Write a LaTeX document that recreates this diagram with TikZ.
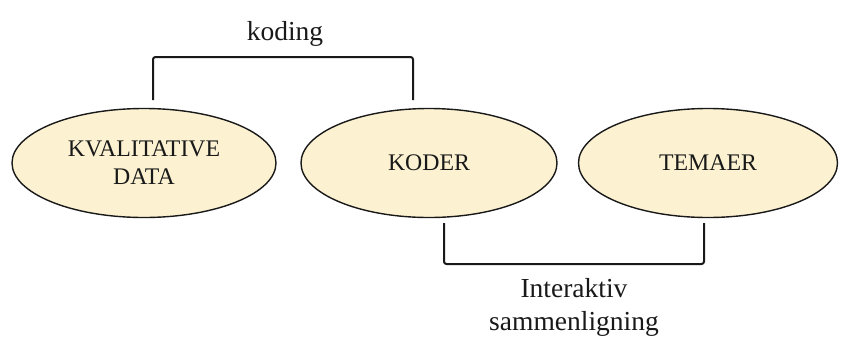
\documentclass[tikz,border=0pt]{standalone}
\usepackage{fontspec}
\setmainfont{Liberation Serif}
\usetikzlibrary{shapes.geometric}
\definecolor{ellfill}{RGB}{252,242,209}
\definecolor{inkc}{RGB}{25,25,25}
\tikzset{
  blob/.style={ellipse, draw=inkc, line width=1.4pt, fill=ellfill, inner sep=0pt,
    minimum width=#1, minimum height=109pt, align=center, text=inkc,
    font=\fontsize{23.8}{28}\selectfont},
  bracket/.style={draw=inkc, line width=2pt, rounded corners=2.5pt},
  lbl/.style={text=inkc, font=\fontsize{27.5}{35}\selectfont, align=center, inner sep=0pt}
}
\begin{document}
\begin{tikzpicture}[x=1pt,y=-1pt]
\useasboundingbox (0,0) rectangle (847,338);
\node[blob=264pt] (kv) at (144,163) {KVALITATIVE\\DATA};
\node[blob=256pt] (ko) at (429,163) {KODER};
\node[blob=259pt] (te) at (708,163) {TEMAER};
\coordinate (t1) at (153,100);
\coordinate (t2) at (413,100);
\coordinate (b1) at (444,223);
\coordinate (b2) at (704,223);
\draw[bracket] (t1) -- (153,57) -- (413,57) -- (t2);
\draw[bracket] (b1) -- (444,264) -- (704,264) -- (b2);
\node[lbl, anchor=base] (kd) at (285,40) {koding};
\node[lbl, anchor=base] (ia) at (574,297) {Interaktiv};
\node[lbl, anchor=base] (sm) at (574,330) {sammenligning};
\end{tikzpicture}
\end{document}
